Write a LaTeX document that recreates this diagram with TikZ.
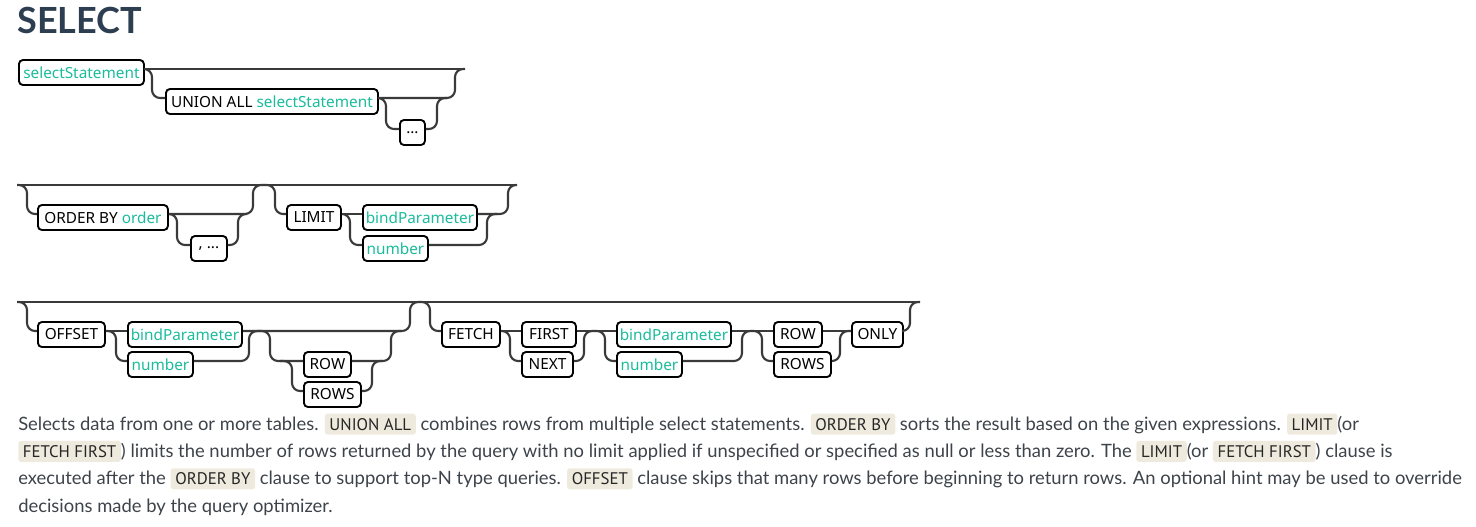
\documentclass[tikz,border=0pt]{standalone}
\usepackage{fontspec}
\setmainfont{Lato}
\newfontfamily\railfont{Noto Sans}
\newfontfamily\codefont{PT Sans}
\usepackage{tikz}

\definecolor{RailGray}{HTML}{3A3A3A}
\definecolor{NonTerm}{HTML}{1ABC9C}
\definecolor{TitleInk}{HTML}{2C3E50}
\definecolor{BodyInk}{HTML}{3D434A}
\definecolor{CodeBg}{HTML}{EEEBDE}

\tikzset{
    % one box of the railroad
    railbox/.style={
        rectangle,
        rounded corners=3pt,
        draw=black,
        fill=white,
        line width=1.4pt,
        minimum height=18.75pt,
        inner sep=0pt,
        anchor=west,
        font=\railfont\fontsize{11.5}{13}\selectfont
    },
    boxw/.style={minimum width=#1*0.75pt},
    rail/.style={
        draw=RailGray,
        line width=1.6pt,
        rounded corners=6pt
    },
    codebox/.style={
        fill=CodeBg,
        rounded corners=2pt,
        inner xsep=3.5pt,
        inner ysep=0pt,
        minimum height=15.75pt,
        text=black!85,
        font=\codefont\fontsize{12.6}{14}\selectfont
    }
}
\newcommand\nonterm[1]{\textcolor{NonTerm}{#1}}
\newcommand\sqlkw[1]{\tikz[baseline=(kw.base)]\node[codebox] (kw) {#1};}

\begin{document}
\begin{tikzpicture}[x=0.75pt,y=-0.75pt]
    \useasboundingbox (0,0) rectangle (1476,526);

    \node[anchor=base west, text=TitleInk, inner sep=0pt,
          font=\bfseries\fontsize{27}{30}\selectfont] (title) at (17,33) {SELECT};

    % row 1
    \node[railbox, boxw=125] (sel) at (18,72.5) {\nonterm{selectStatement}};
    \node[railbox, boxw=212] (union) at (165,101.5) {UNION ALL \nonterm{selectStatement}};
    \node[railbox, boxw=25] (dots) at (399,132.5) {...};

    % row 2
    \node[railbox, boxw=130] (orderby) at (37,217.5) {ORDER BY \nonterm{order}};
    \node[railbox, boxw=36] (comma) at (190,248.5) {, ...};
    \node[railbox, boxw=54] (limit) at (286,217.5) {LIMIT};
    \node[railbox, boxw=114] (bind2) at (362,217.5) {\nonterm{bindParameter}};
    \node[railbox, boxw=65] (num2) at (362,248.5) {\nonterm{number}};

    % row 3
    \node[railbox, boxw=67] (offset) at (37,334.5) {OFFSET};
    \node[railbox, boxw=114] (bind3) at (127,334.5) {\nonterm{bindParameter}};
    \node[railbox, boxw=65] (num3) at (127,364.5) {\nonterm{number}};
    \node[railbox, boxw=47] (row3) at (303,364.5) {ROW};
    \node[railbox, boxw=57] (rows3) at (303,394.5) {ROWS};
    \node[railbox, boxw=58] (fetch) at (441,334.5) {FETCH};
    \node[railbox, boxw=54] (first) at (521,334.5) {FIRST};
    \node[railbox, boxw=51] (next) at (521,364.5) {NEXT};
    \node[railbox, boxw=114] (bind4) at (616,334.5) {\nonterm{bindParameter}};
    \node[railbox, boxw=65] (num4) at (616,364.5) {\nonterm{number}};
    \node[railbox, boxw=48] (row4) at (773,334.5) {ROW};
    \node[railbox, boxw=57] (rows4) at (773,364.5) {ROWS};
    \node[railbox, boxw=51] (only) at (851,334.5) {ONLY};

    % where the rails meet the boxes
    \foreach \n in {sel,union,dots,orderby,comma,limit,bind2,num2,offset,bind3,num3,
                    row3,rows3,fetch,first,next,bind4,num4,row4,rows4,only} {
        \coordinate (\n-i) at ([yshift=2.625pt]\n.west);
        \coordinate (\n-o) at ([yshift=2.625pt]\n.east);
    }
    \coordinate (r1e) at (465,69);
    \coordinate (r2s) at (17,185);
    \coordinate (r2e) at (517,185);
    \coordinate (r3s) at (17,302);
    \coordinate (r3e) at (920,302);

    % row 1
    \draw[rail] (sel-o) -- (r1e);
    \draw[rail] (sel-o) -- (152,69) |- (union-i);
    \draw[rail] (union-o) -| (455,69) -- (r1e);
    \draw[rail] (union-o) -- (386,98) |- (dots-i);
    \draw[rail] (dots-o) -| (437,98) -- (447,98);

    % row 2
    \draw[rail] (r2s) -- (r2e);
    \draw[rail] (r2s) -- (27,185) |- (orderby-i);
    \draw[rail] (orderby-o) -| (253,185) -- (262,185);
    \draw[rail] (orderby-o) -- (177,214) |- (comma-i);
    \draw[rail] (comma-o) -| (238,214) -- (247,214);
    \draw[rail] (262,185) -- (275,185) |- (limit-i);
    \draw[rail] (limit-o) -- (bind2-i);
    \draw[rail] (limit-o) -- (350,214) |- (num2-i);
    \draw[rail] (num2-o) -| (487,214) -- (497,214);
    \draw[rail] (bind2-o) -| (508,185) -- (r2e);

    % row 3
    \draw[rail] (r3s) -- (r3e);
    \draw[rail] (r3s) -- (27,302) |- (offset-i);
    \draw[rail] (offset-o) -- (bind3-i);
    \draw[rail] (offset-o) -- (116,331) |- (num3-i);
    \draw[rail] (num3-o) -| (249,331) -- (258,331);
    \draw[rail] (bind3-o) -| (410,302) -- (420,302);
    \draw[rail] (258,331) -- (270,331) |- (row3-i);
    \draw[rail] (280,361) -- (292,361) |- (rows3-i);
    \draw[rail] (rows3-o) -| (372,361) -- (382,361);
    \draw[rail] (row3-o) -| (391,331) -- (401,331);
    \draw[rail] (420,302) -- (430,302) |- (fetch-i);
    \draw[rail] (fetch-o) -- (first-i);
    \draw[rail] (fetch-o) -- (510,331) |- (next-i);
    \draw[rail] (next-o) -| (584,331) -- (594,331);
    \draw[rail] (first-o) -- (bind4-i);
    \draw[rail] (594,331) -- (605,331) |- (num4-i);
    \draw[rail] (bind4-o) -- (row4-i);
    \draw[rail] (num4-o) -| (742,331) -- (751,331);
    \draw[rail] (751,331) -- (762,331) |- (rows4-i);
    \draw[rail] (row4-o) -- (only-i);
    \draw[rail] (rows4-o) -| (840,331) -- (only-i);
    \draw[rail] (only-o) -| (910,302) -- (r3e);

    % text under the diagram
    \node[anchor=base west, align=left, inner sep=0pt, text=BodyInk,
          font=\fontsize{13.8}{20.5}\selectfont] (desc) at (18,512)
        {Selects data from one or more tables. \sqlkw{UNION ALL} combines rows from multiple select statements. \sqlkw{ORDER BY} sorts the result based on the given expressions. \sqlkw{LIMIT}(or\\
         \sqlkw{FETCH FIRST}) limits the number of rows returned by the query with no limit applied if unspecified or specified as null or less than zero. The \sqlkw{LIMIT}(or \sqlkw{FETCH FIRST}) clause is\\
         executed after the \sqlkw{ORDER BY} clause to support top-N type queries. \sqlkw{OFFSET} clause skips that many rows before beginning to return rows. An optional hint may be used to override\\
         decisions made by the query optimizer.};
\end{tikzpicture}
\end{document}
